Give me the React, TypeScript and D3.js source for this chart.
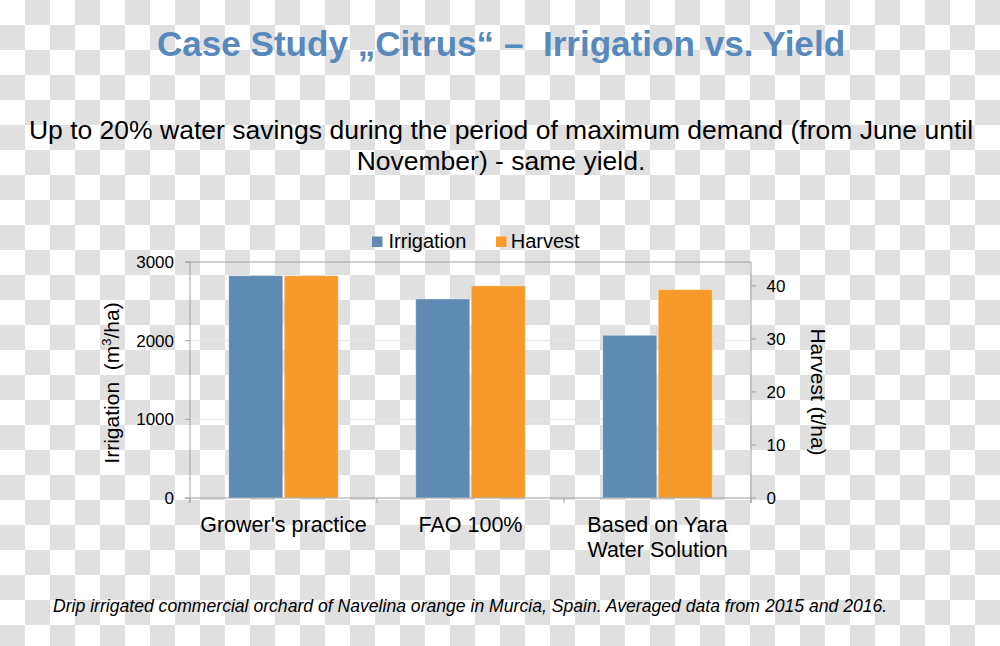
import React from "react";
import * as d3 from "d3";

const categories = ["Grower's practice", "FAO 100%", "Based on Yara\nWater Solution"];
const seriesNames = ["Irrigation", "Harvest"];
const irrigation = [2826, 2530, 2068];
const harvest = [41.9, 40.0, 39.3];
const irrigationTicks = [0, 1000, 2000, 3000];
const harvestTicks = [0, 10, 20, 30, 40];

const titleText = "Case Study \u201ECitrus\u201C \u2013\u00A0 Irrigation vs. Yield";
const subtitleLines = [
  "Up to 20% water savings during the period of maximum demand (from June until",
  "November) - same yield.",
];
const footerText =
  "Drip irrigated commercial orchard of Navelina orange in Murcia, Spain. Averaged data from 2015 and 2016.";

const W = 1000;
const H = 646;
const BLUE = "#5E8AB4";
const ORANGE = "#F79A29";
const TITLE = "#5889BD";
const AXIS = "#a0a0a0";
const FONT = "'Liberation Sans', Arial, sans-serif";

export default function App() {
  const left = 190, right = 751, top = 262, bottom = 498;
  const x0 = d3.scaleBand<string>().domain(categories).range([left, right]).padding(0);
  const x1 = d3
    .scaleBand<string>()
    .domain(seriesNames)
    .range([0, x0.bandwidth()])
    .paddingInner(0.027)
    .paddingOuter(0.698);
  const yL = d3.scaleLinear().domain([0, 3000]).range([bottom, top]);
  const yR = d3.scaleLinear().domain([0, 44.5]).range([bottom, top]);
  const colors = d3.scaleOrdinal<string, string>().domain(seriesNames).range([BLUE, ORANGE]);

  const catTicks = [left, ...categories.map((c) => (x0(c) as number) + x0.bandwidth())];

  return (
    <svg
      width={W}
      height={H}
      viewBox={`0 0 ${W} ${H}`}
      style={{ position: "absolute", left: 0, top: 0, display: "block" }}
      fontFamily={FONT}
    >
      <defs>
        <pattern id="checker" width={50} height={50} patternUnits="userSpaceOnUse">
          <rect x={0} y={0} width={50} height={50} fill="#ffffff" />
          <rect x={25} y={0} width={25} height={25} fill="#e0e0e0" />
          <rect x={0} y={25} width={25} height={25} fill="#e0e0e0" />
        </pattern>
      </defs>
      <rect x={0} y={0} width={W} height={H} fill="url(#checker)" />

      {/* Title */}
      <text x={501} y={55.5} textAnchor="middle" fontSize={35.1} fontWeight="bold" fill={TITLE}>
        {titleText}
      </text>

      {/* Subtitle */}
      {subtitleLines.map((l, i) => (
        <text key={i} x={501} y={139 + i * 30.5} textAnchor="middle" fontSize={26.5} fill="#000">
          {l}
        </text>
      ))}

      {/* Legend */}
      <g>
        <rect x={372} y={236.5} width={10.5} height={10.5} fill={BLUE} />
        <text x={388.5} y={247.5} fontSize={20} fill="#000">
          {seriesNames[0]}
        </text>
        <rect x={496} y={236.5} width={10.5} height={10.5} fill={ORANGE} />
        <text x={510.7} y={247.5} fontSize={20} fill="#000">
          {seriesNames[1]}
        </text>
      </g>

      {/* Gridlines */}
      {irrigationTicks
        .filter((t) => t > 0 && t < 3000)
        .map((t) => (
          <line key={t} x1={left} x2={right} y1={yL(t)} y2={yL(t)} stroke="#e6e6e6" strokeWidth={1} />
        ))}

      {/* Bars */}
      {categories.map((c, i) => (
        <g key={c} transform={`translate(${x0(c)},0)`}>
          {[irrigation[i], harvest[i]].map((v, j) => {
            const s = seriesNames[j];
            const y = j === 0 ? yL(v) : yR(v);
            return (
              <rect
                key={s}
                x={x1(s)}
                y={y}
                width={x1.bandwidth()}
                height={bottom - y}
                fill={colors(s)}
                stroke="rgba(255,255,255,0.35)"
                strokeWidth={1}
              />
            );
          })}
        </g>
      ))}

      {/* Plot frame / axes */}
      <line x1={left - 5} x2={right} y1={top} y2={top} stroke={AXIS} strokeWidth={1} />
      <line x1={left} x2={left} y1={top} y2={bottom + 5} stroke={AXIS} strokeWidth={1} />
      <line x1={right} x2={right} y1={top} y2={bottom + 5} stroke={AXIS} strokeWidth={1} />
      <line x1={left - 5} x2={right} y1={bottom} y2={bottom} stroke={AXIS} strokeWidth={1} />

      {/* Left ticks */}
      {irrigationTicks.map((t) => (
        <g key={t}>
          <line x1={left - 5} x2={left} y1={yL(t)} y2={yL(t)} stroke={AXIS} />
          <text x={174} y={yL(t) + 6} textAnchor="end" fontSize={17} fill="#000">
            {t}
          </text>
        </g>
      ))}

      {/* Right ticks */}
      {harvestTicks.map((t) => (
        <g key={t}>
          <line x1={right} x2={right + 5} y1={yR(t)} y2={yR(t)} stroke={AXIS} />
          <text x={766.5} y={yR(t) + 6} textAnchor="start" fontSize={17} fill="#000">
            {t}
          </text>
        </g>
      ))}

      {/* Category ticks */}
      {catTicks.map((x, i) => (
        <line key={i} x1={x} x2={x} y1={bottom} y2={bottom + 5} stroke={AXIS} />
      ))}

      {/* Category labels */}
      {categories.map((c) => {
        const cx = (x0(c) as number) + x0.bandwidth() / 2;
        return (
          <text key={c} x={cx} y={532} textAnchor="middle" fontSize={21.5} fill="#000">
            {c.split("\n").map((line, k) => (
              <tspan key={k} x={cx} dy={k === 0 ? 0 : 25}>
                {line}
              </tspan>
            ))}
          </text>
        );
      })}

      {/* Axis titles */}
      <text transform="translate(119,383) rotate(-90)" textAnchor="middle" fontSize={21} fill="#000">
        Irrigation{"\u00A0\u00A0"}(m<tspan fontSize={13} dy={-8}>3</tspan>
        <tspan dy={8}>/ha)</tspan>
      </text>
      <text transform="translate(811,392) rotate(90)" textAnchor="middle" fontSize={21} fill="#000">
        Harvest (t/ha)
      </text>

      {/* Footer */}
      <text x={53} y={612} fontSize={17.6} fontStyle="italic" fill="#000">
        {footerText}
      </text>
    </svg>
  );
}
